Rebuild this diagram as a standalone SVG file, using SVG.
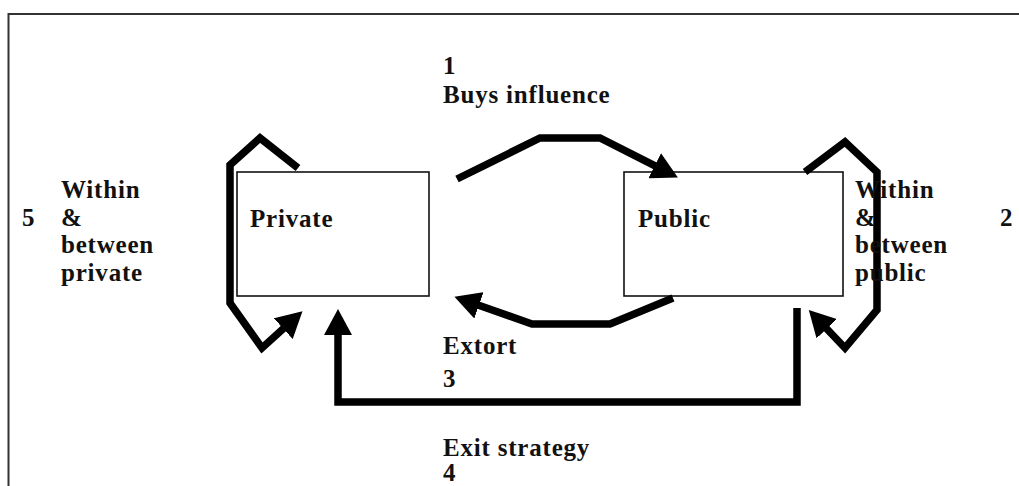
<svg xmlns="http://www.w3.org/2000/svg" width="1019" height="486" viewBox="0 0 1019 486">
<style>
.t{font-family:"Liberation Serif","Times New Roman",serif;font-weight:bold;font-size:25px;letter-spacing:0.8px;fill:#111}
.box{fill:#fff;stroke:#111;stroke-width:1.6}
.c{fill:none;stroke:#000;stroke-width:7.5;stroke-linejoin:miter;stroke-linecap:butt}
</style>
<defs>
<marker id="ah" viewBox="0 0 26 28" refX="1" refY="14" markerWidth="26" markerHeight="28" markerUnits="userSpaceOnUse" orient="auto">
<path d="M0,0 L26,14 L0,28 Z" fill="#000"/>
</marker>
</defs>
<rect width="1019" height="486" fill="#fff"/>
<path d="M8.5,486 V14 H1019" fill="none" stroke="#333" stroke-width="2"/>
<g id="private">
<rect class="box" x="237" y="172" width="192" height="124"/>
<text class="t" x="250" y="227">Private</text>
</g>
<g id="public">
<rect class="box" x="624" y="172" width="219" height="124"/>
<text class="t" x="638" y="227">Public</text>
</g>
<g id="connectors">
<path class="c" marker-end="url(#ah)" d="M457,179 L540,138 L600,138 L655.6,166.2"/>
<path class="c" marker-end="url(#ah)" d="M298,168 L260,138 L230,165 L230,303 L262,348 L284,328"/>
<path class="c" marker-end="url(#ah)" d="M805,172 L845,142 L877,172 L877,310 L845,348 L826,328"/>
<path class="c" marker-end="url(#ah)" d="M673,298 L610,324 L532,324 L478,305"/>
<path class="c" marker-end="url(#ah)" d="M797,308 L797,402 L338,402 L338,334"/>
</g>
<g id="labels">
<text class="t" x="443" y="74">1</text>
<text class="t" x="443" y="103">Buys influence</text>
<text class="t" x="443" y="354">Extort</text>
<text class="t" x="443" y="387">3</text>
<text class="t" x="443" y="456">Exit strategy</text>
<text class="t" x="443" y="481">4</text>
<text class="t" x="22" y="226">5</text>
<text class="t" x="61" y="198">Within</text>
<text class="t" x="61" y="226">&amp;</text>
<text class="t" x="61" y="253">between</text>
<text class="t" x="61" y="281">private</text>
<text class="t" x="855" y="198">Within</text>
<text class="t" x="855" y="226">&amp;</text>
<text class="t" x="855" y="253">between</text>
<text class="t" x="855" y="281">public</text>
<text class="t" x="1000" y="226">2</text>
</g>
</svg>
